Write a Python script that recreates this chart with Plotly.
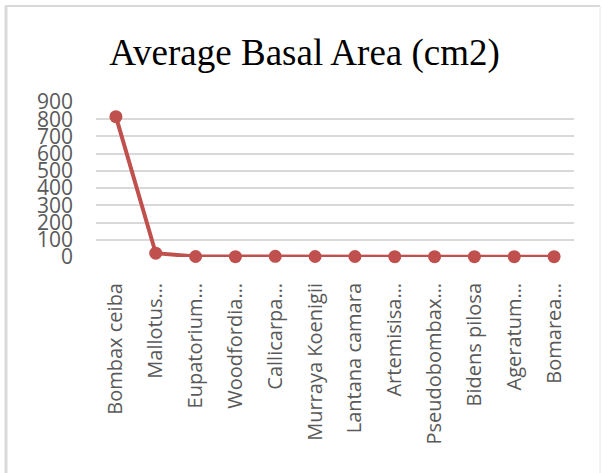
import plotly.graph_objects as go

# 데이터
species = [
    "Bombax ceiba", "Mallotus…", "Eupatorium…", "Woodfordia…", "Callicarpa…",
    "Murraya Koenigii", "Lantana camara", "Artemisisa…", "Pseudobombax…",
    "Bidens pilosa", "Ageratum…", "Bomarea…",
]
basal_area = [815, 22, 3, 2, 4, 3, 3, 2, 2, 2, 2, 2]
y_ticks = [0, 100, 200, 300, 400, 500, 600, 700, 800, 900]

W, H = 603, 473
L, R, T, B = 96, 29, 102, 216
RED = "#c0504d"
GRID = "#d9d9d9"
TICK = "#595959"


def px(x):
    return (x - L) / (W - L - R)


def py(y):
    return (H - B - y) / (H - T - B)


fig = go.Figure(go.Scatter(
    x=species,
    y=basal_area,
    mode="lines+markers",
    line=dict(color=RED, width=4),
    marker=dict(color=RED, size=13),
    cliponaxis=False,
))

# 차트 테두리
border = dict(type="line", xref="paper", yref="paper")
fig.add_shape(**border, x0=px(5), x1=px(600), y0=py(6), y1=py(6), line=dict(color=GRID, width=2))
fig.add_shape(**border, x0=px(6), x1=px(6), y0=py(6), y1=py(480), line=dict(color=GRID, width=3))
fig.add_shape(**border, x0=px(600), x1=px(600), y0=py(6), y1=py(480), line=dict(color="#e6e6e6", width=1))

fig.update_layout(
    width=W,
    height=H,
    margin=dict(l=L, r=R, t=T, b=B),
    paper_bgcolor="white",
    plot_bgcolor="white",
    showlegend=False,
    title=dict(
        text="Average Basal Area (cm2)",
        font=dict(family="Liberation Serif", size=37, color="black"),
        x=0.505, xanchor="center",
        y=1 - 52 / H, yanchor="middle",
    ),
    xaxis=dict(
        type="category",
        range=[-0.5, len(species) - 0.5],
        tickangle=-90,
        tickfont=dict(family="Open Sans", size=20, color=TICK),
        showgrid=False,
        showline=False,
        ticklabelstandoff=21,
        automargin=False,
    ),
    yaxis=dict(
        range=[0, 900],
        tickvals=y_ticks,
        tickfont=dict(family="Open Sans", size=21, color=TICK),
        gridcolor=GRID,
        gridwidth=1.5,
        zeroline=False,
        showline=False,
        ticklabelstandoff=22,
        automargin=False,
    ),
)

fig.write_html(
    "out.html",
    config={"displayModeBar": False},
    post_script="document.body.style.margin='0';",
)
